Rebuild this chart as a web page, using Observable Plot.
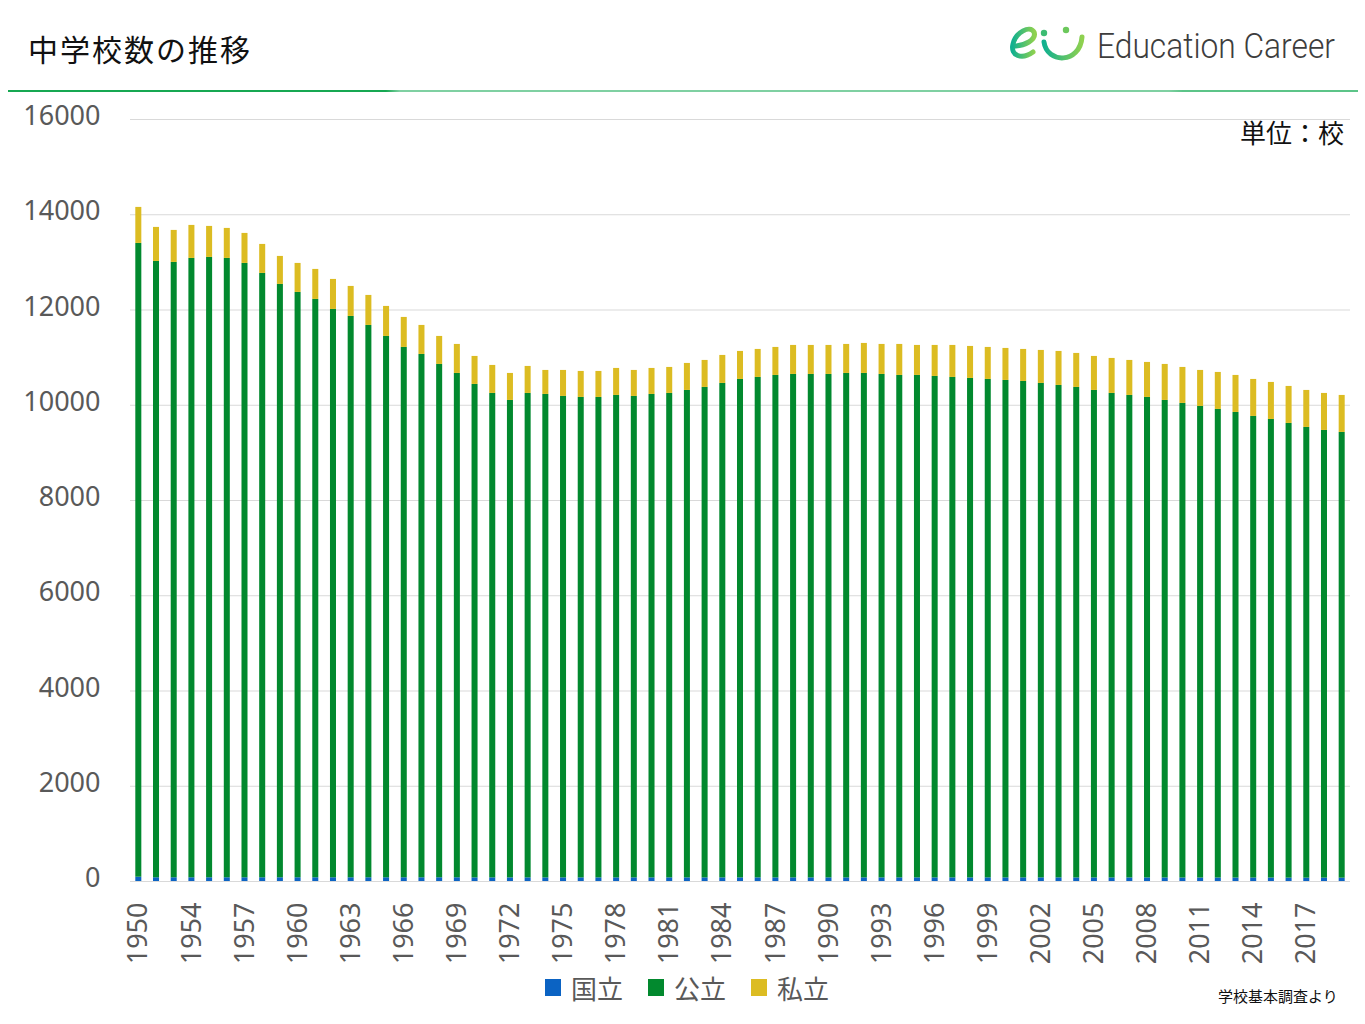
<!DOCTYPE html>
<html>
<head>
<meta charset="utf-8">
<script src="https://cdn.jsdelivr.net/npm/d3@7"></script>
<script src="https://cdn.jsdelivr.net/npm/@observablehq/plot@0.6"></script>
<style>
  html, body { margin: 0; padding: 0; background: #fff; }
  #page { position: relative; width: 1365px; height: 1024px; overflow: hidden; font-family: "Noto Sans CJK JP", "Noto Sans", sans-serif; }
  #title { position: absolute; left: 28px; top: 28px; font-size: 30px; letter-spacing: 2px; color: #111; line-height: 40px; }
  #logo { position: absolute; left: 1000px; top: 14px; }
  #rule { position: absolute; left: 8px; top: 90px; width: 1350px; height: 2px; background: linear-gradient(to right, #16a852 0%, #16a852 28%, #7fd0a2 29%, #7fd0a2 86%, #5cc488 87%, #5cc488 100%); }
  #unit { position: absolute; left: 1240px; top: 114px; font-size: 26px; color: #111; line-height: 36px; }
  #chart { position: absolute; left: 0; top: 92px; }
  #legend { position: absolute; left: 545px; top: 969px; display: flex; align-items: center; font-size: 26px; color: #595959; }
  #legend .item { display: flex; align-items: center; margin-right: 25px; }
  #legend .sw { width: 16px; height: 17px; margin-right: 10px; }
  #source { position: absolute; left: 1218px; top: 985px; font-size: 15px; color: #111; }
</style>
</head>
<body>
<div id="page">
  <div id="title">中学校数の推移</div>
  <svg id="logo" width="360" height="70" viewBox="1000 14 360 70">
    <defs>
      <linearGradient id="lg" x1="0" x2="1" y1="0" y2="0">
        <stop offset="0" stop-color="#11b08f"/>
        <stop offset="1" stop-color="#8fd14f"/>
      </linearGradient>
    </defs>
    <path d="M1014,46 C1024,46 1037,40 1034,32 C1030,25 1016,32 1013,44 C1010,56 1022,60 1033,52" fill="none" stroke="url(#lg)" stroke-width="5" stroke-linecap="round"/>
    <path d="M1044,42 C1047,64 1080,64 1082,37" fill="none" stroke="url(#lg)" stroke-width="5" stroke-linecap="round"/>
    <circle cx="1044" cy="33" r="3.2" fill="#3cbc72"/>
    <circle cx="1066" cy="30" r="3.2" fill="#6cc85c"/>
    <text x="1097" y="58" font-family="Roboto, 'Noto Sans', sans-serif" font-weight="300" font-size="35" fill="#3d3d3d" textLength="238" lengthAdjust="spacingAndGlyphs">Education Career</text>
  </svg>
  <div id="rule"></div>
  <div id="chart"></div>
  <div id="unit">単位：校</div>
  <div id="legend"></div>
  <div id="source">学校基本調査より</div>
</div>
<script>
// ---- data ----
const years = ["1950","1951","1953","1954","1955","1956","1957","1958","1959","1960",
  "1961","1962","1963","1964","1965","1966","1967","1968","1969","1970",
  "1971","1972","1973","1974","1975","1976","1977","1978","1979","1980",
  "1981","1982","1983","1984","1985","1986","1987","1988","1989","1990",
  "1991","1992","1993","1994","1995","1996","1997","1998","1999","2000",
  "2001","2002","2003","2004","2005","2006","2007","2008","2009","2010",
  "2011","2012","2013","2014","2015","2016","2017","2018","2019"];

const national = [90,78,78,78,78,78,78,78,78,78,
  78,78,78,78,78,78,78,78,78,76,
  76,76,76,76,76,76,76,76,76,76,
  76,76,76,76,76,76,76,76,76,76,
  76,76,76,76,76,76,76,76,76,76,
  76,76,76,75,75,75,75,75,75,73,
  73,73,73,73,73,71,71,71,70];

const publicSchools = [13308,12942,12921,13005,13026,13005,12900,12690,12459,12291,
  12144,11934,11787,11598,11367,11136,10989,10779,10590,10361,
  10172,10025,10172,10151,10109,10088,10088,10130,10109,10151,
  10172,10235,10298,10382,10466,10508,10550,10571,10571,10571,
  10592,10592,10571,10550,10550,10529,10508,10487,10466,10445,
  10424,10382,10340,10299,10236,10173,10131,10089,10026,9965,
  9902,9839,9776,9692,9629,9547,9463,9400,9359];

const privateSchools = [756,714,672,693,651,630,630,609,588,609,
  630,630,630,630,630,630,609,588,609,588,
  588,567,567,504,546,546,546,567,546,546,
  546,567,567,588,588,588,588,609,609,609,
  609,630,630,651,630,651,672,672,672,672,
  672,693,714,714,714,735,735,735,756,756,
  756,777,777,777,777,777,777,777,777];

const seriesNames = ["国立", "公立", "私立"];
const seriesColors = ["#0b63c3", "#02892e", "#dcbc22"];
const yTicks = [0, 2000, 4000, 6000, 8000, 10000, 12000, 14000, 16000];
const xTickLabels = years.filter((d, i) => i % 3 === 0);

// long-format table for the stacked bars
const rows = [];
years.forEach((y, i) => {
  rows.push({year: y, type: seriesNames[0], value: national[i]});
  rows.push({year: y, type: seriesNames[1], value: publicSchools[i]});
  rows.push({year: y, type: seriesNames[2], value: privateSchools[i]});
});

const chart = Plot.plot({
  width: 1365,
  height: 883,
  marginTop: 27,
  marginBottom: 94,
  marginLeft: 130,
  marginRight: 15,
  style: {fontFamily: "'Noto Sans', sans-serif", background: "transparent"},
  x: {type: "band", domain: years, paddingInner: 0.66, paddingOuter: 0.3},
  y: {domain: [0, 16000]},
  color: {domain: seriesNames, range: seriesColors},
  marks: [
    Plot.gridY(yTicks, {stroke: "#d9d9d9", strokeOpacity: 1, strokeWidth: 1}),
    Plot.barY(rows, {x: "year", y: "value", fill: "type", order: seriesNames}),
    Plot.axisY({ticks: yTicks, tickSize: 0, tickPadding: 30, fontSize: 27, fill: "#595959", dy: -3, label: null, tickFormat: d => String(d)}),
    Plot.axisX({ticks: xTickLabels, tickSize: 0, tickRotate: -90, tickPadding: 21, fontSize: 27, fill: "#595959", label: null})
  ]
});
document.getElementById("chart").appendChild(chart);

// legend
const legend = document.getElementById("legend");
seriesNames.forEach((name, i) => {
  const item = document.createElement("div");
  item.className = "item";
  const sw = document.createElement("div");
  sw.className = "sw";
  sw.style.background = seriesColors[i];
  const label = document.createElement("span");
  label.textContent = name;
  item.appendChild(sw);
  item.appendChild(label);
  legend.appendChild(item);
});
</script>
</body>
</html>
